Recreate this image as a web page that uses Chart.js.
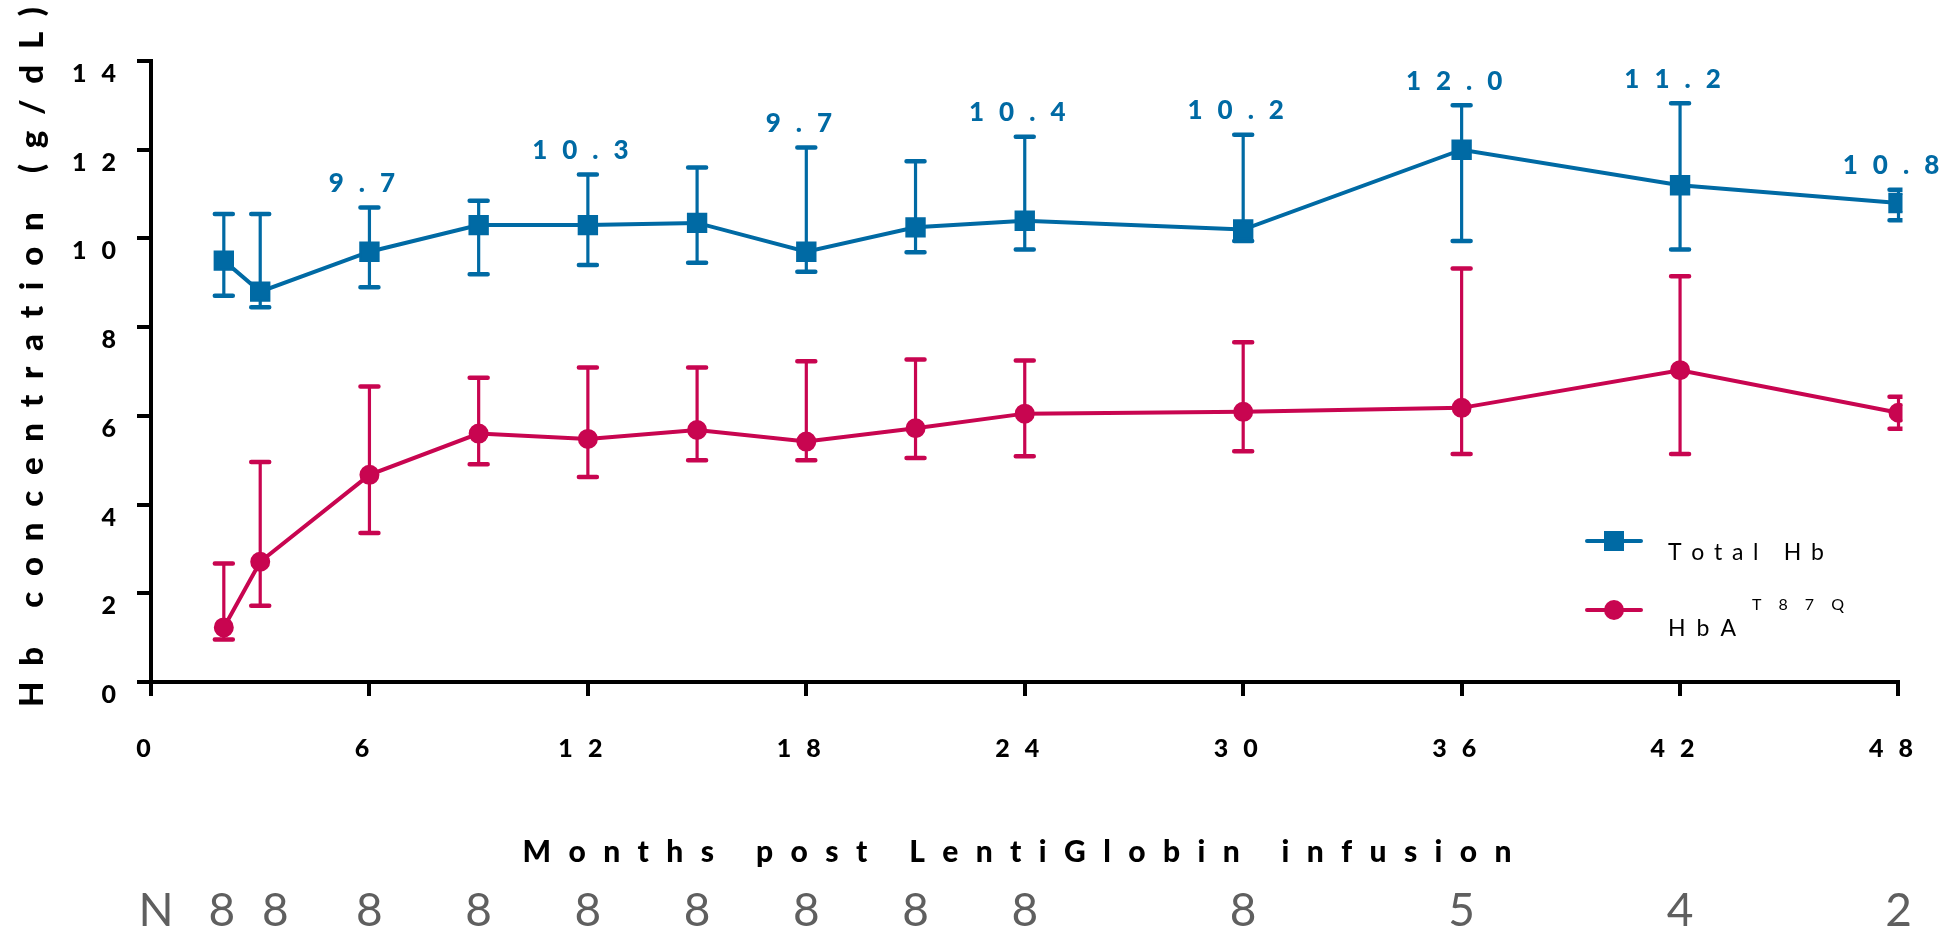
<!DOCTYPE html>
<html>
<head>
<meta charset="utf-8">
<script src="https://cdn.jsdelivr.net/npm/chart.js@4.4.1/dist/chart.umd.min.js"></script>
<style>
  html, body { margin: 0; padding: 0; background: #fff; }
</style>
</head>
<body>
<canvas id="hbChart" width="1951" height="927"></canvas>
<script>
// months after infusion
var months = [2, 3, 6, 9, 12, 15, 18, 21, 24, 30, 36, 42, 48];
var xTicks = [0, 6, 12, 18, 24, 30, 36, 42, 48];
var yTicks = [0, 2, 4, 6, 8, 10, 12, 14];

// Total Hb (g/dL) with error bar ends
var totalHb   = [9.5, 8.8, 9.7, 10.3, 10.3, 10.35, 9.7, 10.25, 10.4, 10.2, 12.0, 11.2, 10.8];
var totalHbHi = [10.55, 10.55, 10.7, 10.85, 11.44, 11.6, 12.05, 11.74, 12.29, 12.34, 13.0, 13.05, 11.1];
var totalHbLo = [8.71, 8.45, 8.9, 9.19, 9.4, 9.45, 9.25, 9.69, 9.75, 9.94, 9.94, 9.75, 10.41];
var totalLabels = [null, null, '9.7', null, '10.3', null, '9.7', null, '10.4', '10.2', '12.0', '11.2', '10.8'];

// HbA T87Q (g/dL) with error bar ends
var hbaT87Q   = [1.23, 2.71, 4.67, 5.6, 5.48, 5.68, 5.42, 5.72, 6.05, 6.09, 6.18, 7.03, 6.07];
var hbaT87QHi = [2.67, 4.96, 6.66, 6.86, 7.09, 7.09, 7.23, 7.27, 7.25, 7.66, 9.32, 9.15, 6.43];
var hbaT87QLo = [0.96, 1.72, 3.36, 4.91, 4.62, 5.0, 5.0, 5.05, 5.09, 5.2, 5.14, 5.14, 5.71];

// patients per time point
var patientsN = [8, 8, 8, 8, 8, 8, 8, 8, 8, 8, 5, 4, 2];

var blue = '#006aa4';
var red = '#c80550';
var fontFam = 'Lato, "Open Sans", sans-serif';

function toPoints(ys) {
    return months.map(function (m, i) { return {x: m, y: ys[i]}; });
}

// char by char text, so spacing does not depend on canvas letterSpacing
function charWidths(ctx, text) {
    var out = [];
    for (var i = 0; i < text.length; i++) out.push(ctx.measureText(text[i]).width);
    return out;
}
function drawSpaced(ctx, text, x, y, spacing) {
    var ws = charWidths(ctx, text);
    for (var i = 0; i < text.length; i++) {
        ctx.fillText(text[i], x, y);
        x += ws[i] + spacing;
    }
}
function spacedWidth(ctx, text, spacing) {
    var ws = charWidths(ctx, text), w = 0;
    for (var i = 0; i < ws.length; i++) w += ws[i] + spacing;
    return w;
}
// spread text so the glyphs cover span px, centred on cx
function drawFitted(ctx, text, cx, cy, span) {
    var ws = charWidths(ctx, text), sum = 0;
    ws.forEach(function (w) { sum += w; });
    var sp = (span - sum) / (text.length - 1);
    drawSpaced(ctx, text, cx - span / 2, cy, sp);
}

var tickSpacing = {
    id: 'tickSpacing',
    beforeDraw: function (chart) { chart.ctx.letterSpacing = '15px'; },
    afterDraw: function (chart) { chart.ctx.letterSpacing = '0px'; }
};

var errorBars = {
    id: 'errorBars',
    beforeDatasetsDraw: function (chart) {
        var ctx = chart.ctx, xs = chart.scales.x, ys = chart.scales.y, a = chart.chartArea;
        var sets = [[totalHbLo, totalHbHi, blue], [hbaT87QLo, hbaT87QHi, red]];
        ctx.save();
        ctx.letterSpacing = '0px';
        ctx.beginPath();
        ctx.rect(a.left - 40, 0, a.right - a.left + 44, a.bottom + 40);
        ctx.clip();
        sets.forEach(function (s) {
            ctx.strokeStyle = s[2];
            months.forEach(function (m, i) {
                var px = xs.getPixelForValue(m);
                var top = ys.getPixelForValue(s[1][i]);
                var bot = ys.getPixelForValue(s[0][i]);
                ctx.lineCap = 'butt';
                ctx.lineWidth = 3.2;
                ctx.beginPath();
                ctx.moveTo(px, top);
                ctx.lineTo(px, bot);
                ctx.stroke();
                ctx.lineCap = 'round';
                ctx.lineWidth = 4.5;
                ctx.beginPath();
                ctx.moveTo(px - 9, top); ctx.lineTo(px + 9, top);
                ctx.moveTo(px - 9, bot); ctx.lineTo(px + 9, bot);
                ctx.stroke();
            });
        });
        ctx.restore();
    }
};

var extraText = {
    id: 'extraText',
    afterDraw: function (chart) {
        var ctx = chart.ctx, xs = chart.scales.x, ys = chart.scales.y;
        ctx.save();
        ctx.letterSpacing = '0px';
        ctx.textAlign = 'left';
        ctx.textBaseline = 'middle';

        // value labels above the Total Hb error bars
        ctx.fillStyle = blue;
        ctx.font = '900 26px ' + fontFam;
        totalLabels.forEach(function (lab, i) {
            if (!lab) return;
            var px = xs.getPixelForValue(months[i]);
            var py = ys.getPixelForValue(totalHbHi[i]) - 24;
            var w = spacedWidth(ctx, lab, 15);
            drawSpaced(ctx, lab, px - w / 2, py, 15);
        });

        // axis titles
        ctx.fillStyle = '#000';
        ctx.font = '900 33px ' + fontFam;
        ctx.save();
        ctx.translate(32, 357);
        ctx.rotate(-Math.PI / 2);
        drawFitted(ctx, 'Hb concentration (g/dL)', 0, 0, 700);
        ctx.restore();

        ctx.font = '900 30px ' + fontFam;
        drawFitted(ctx, 'Months post LentiGlobin infusion', 1017, 852, 989);

        // legend
        var legendX = 1614;
        ctx.lineCap = 'round';
        ctx.lineWidth = 4;
        ctx.strokeStyle = blue;
        ctx.beginPath(); ctx.moveTo(legendX - 27, 541); ctx.lineTo(legendX + 27, 541); ctx.stroke();
        ctx.fillStyle = blue;
        ctx.fillRect(legendX - 10, 531, 20, 20);
        ctx.strokeStyle = red;
        ctx.beginPath(); ctx.moveTo(legendX - 27, 610); ctx.lineTo(legendX + 27, 610); ctx.stroke();
        ctx.fillStyle = red;
        ctx.beginPath(); ctx.arc(legendX, 610, 10, 0, Math.PI * 2); ctx.fill();

        ctx.fillStyle = '#000';
        ctx.font = '23px ' + fontFam;
        drawFitted(ctx, 'Total Hb', 1668 + 78, 553, 156);
        drawFitted(ctx, 'HbA', 1668 + 34, 629, 68);
        ctx.font = '16px ' + fontFam;
        drawFitted(ctx, 'T87Q', 1798, 605, 92);

        // N row under the axis
        ctx.fillStyle = '#5f5f5f';
        ctx.font = '46px ' + fontFam;
        ctx.textAlign = 'center';
        ctx.textBaseline = 'alphabetic';
        ctx.fillText('N', 156, 926);
        patientsN.forEach(function (n, i) {
            var px = xs.getPixelForValue(months[i]);
            // the two early counts sit pushed apart in the original
            if (i === 0) px -= 2;
            if (i === 1) px += 15;
            ctx.fillText(String(n), px, 926);
        });
        ctx.restore();
    }
};

var ctx = document.getElementById('hbChart').getContext('2d');
var chart = new Chart(ctx, {
    type: 'line',
    data: {
        datasets: [
            {
                label: 'Total Hb',
                data: toPoints(totalHb),
                borderColor: blue,
                backgroundColor: blue,
                borderWidth: 4,
                pointStyle: 'rect',
                pointRadius: 13,
                pointBorderWidth: 2,
                pointBorderColor: blue,
                pointBackgroundColor: blue,
                tension: 0,
                clip: {left: 40, top: 40, right: 4, bottom: 40}
            },
            {
                label: 'HbA T87Q',
                data: toPoints(hbaT87Q),
                borderColor: red,
                backgroundColor: red,
                borderWidth: 4,
                pointStyle: 'circle',
                pointRadius: 9,
                pointBorderWidth: 2,
                pointBorderColor: red,
                pointBackgroundColor: red,
                tension: 0,
                clip: {left: 40, top: 40, right: 4, bottom: 40}
            }
        ]
    },
    options: {
        responsive: false,
        animation: false,
        devicePixelRatio: 1,
        layout: {padding: {top: 61, right: 48, left: 0, bottom: 0}},
        plugins: {
            legend: {display: false},
            tooltip: {enabled: false}
        },
        scales: {
            x: {
                type: 'linear',
                min: 0,
                max: 48,
                afterBuildTicks: function (scale) {
                    scale.ticks = xTicks.map(function (v) { return {value: v}; });
                },
                afterFit: function (scale) { scale.height = 245; },
                ticks: {
                    color: '#000',
                    font: {family: fontFam, size: 25, weight: '900'},
                    padding: 38,
                    maxRotation: 0,
                    autoSkip: false
                },
                grid: {
                    drawOnChartArea: false,
                    drawTicks: true,
                    tickLength: 14,
                    color: '#000',
                    lineWidth: 4
                },
                border: {display: true, color: '#000', width: 4}
            },
            y: {
                min: 0,
                max: 14,
                afterBuildTicks: function (scale) {
                    scale.ticks = yTicks.map(function (v) { return {value: v}; });
                },
                afterFit: function (scale) { scale.width = 151; },
                ticks: {
                    color: '#000',
                    font: {family: fontFam, size: 25, weight: '900'},
                    padding: 6,
                    labelOffset: 13
                },
                grid: {
                    drawOnChartArea: false,
                    drawTicks: true,
                    tickLength: 14,
                    color: '#000',
                    lineWidth: 4
                },
                border: {display: true, color: '#000', width: 4}
            }
        }
    },
    plugins: [tickSpacing, errorBars, extraText]
});
</script>
</body>
</html>
